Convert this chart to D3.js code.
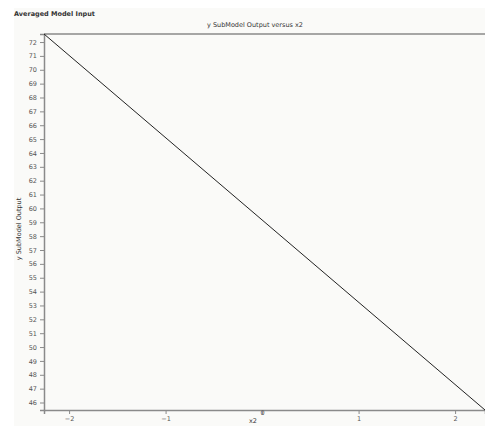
<!DOCTYPE html>
<html>
<head>
<meta charset="utf-8">
<script src="https://cdn.jsdelivr.net/npm/d3@7"></script>
<style>
  html, body { margin: 0; padding: 0; background: #ffffff; overflow: hidden; }
  text { font-family: "DejaVu Sans", sans-serif; }
</style>
</head>
<body>
<svg id="chart"></svg>
<script>
// line endpoints
let x2Values = [-2.26, 2.31];
let yValues = [72.58, 45.46];
let yTicks = d3.range(46, 73);
let xTicks = [-2, -1, 0, 1, 2];

let w = 485, h = 426;
let margin = { left: 44, top: 34, right: 0, bottom: 16 };

let svg = d3.select("#chart")
    .attr("width", w)
    .attr("height", h);

// panel background
svg.append("rect")
    .attr("x", 14).attr("y", 8)
    .attr("width", w - 14).attr("height", h - 8)
    .style("fill", "#fafaf8");

let x = d3.scaleLinear()
    .domain([x2Values[0], x2Values[1]])
    .range([margin.left, w - margin.right]);

let y = d3.scaleLinear()
    .domain([yValues[1], yValues[0]])
    .range([h - margin.bottom, margin.top]);

// top frame line
svg.append("line")
    .attr("x1", margin.left).attr("x2", w)
    .attr("y1", margin.top).attr("y2", margin.top)
    .style("stroke", "#8a8a8a").style("stroke-width", 1.5);

let xAxis = svg.append("g")
    .attr("transform", `translate(0,${h - margin.bottom})`)
    .call(d3.axisBottom(x).tickValues(xTicks).tickSize(4).tickPadding(2).tickFormat(d3.format("d")));

let yAxis = svg.append("g")
    .attr("transform", `translate(${margin.left},0)`)
    .call(d3.axisLeft(y).tickValues(yTicks).tickSize(4).tickPadding(3).tickFormat(d3.format("d")));

[xAxis, yAxis].forEach(g => {
    g.select(".domain").style("stroke", "#8a8a8a").style("stroke-width", 1.5);
    g.selectAll(".tick line").style("stroke", "#8a8a8a");
    g.selectAll("text").style("font-size", "6.5px").style("fill", "#555");
});

// the "0" label sits a little higher in the reference
xAxis.selectAll(".tick text").filter(d => d === 0).attr("dy", "-0.1em");

// the line
let line = d3.line()
    .x((d, i) => x(x2Values[i]))
    .y(d => y(d));

svg.append("path")
    .datum(yValues)
    .attr("d", line)
    .style("fill", "none")
    .style("stroke", "#222")
    .style("stroke-width", 1);

// titles
svg.append("text")
    .attr("x", 14).attr("y", 16)
    .style("font-size", "6.5px").style("font-weight", "bold").style("fill", "#333")
    .text("Averaged Model Input");

svg.append("text")
    .attr("x", 255).attr("y", 27)
    .attr("text-anchor", "middle")
    .style("font-size", "6.5px").style("fill", "#333")
    .text("y SubModel Output versus x2");

svg.append("text")
    .attr("transform", "translate(21,229) rotate(-90)")
    .attr("text-anchor", "middle")
    .style("font-size", "6.5px").style("fill", "#333")
    .text("y SubModel Output");

svg.append("text")
    .attr("x", 253).attr("y", 423)
    .attr("text-anchor", "middle")
    .style("font-size", "6.5px").style("fill", "#333")
    .text("x2");
</script>
</body>
</html>
